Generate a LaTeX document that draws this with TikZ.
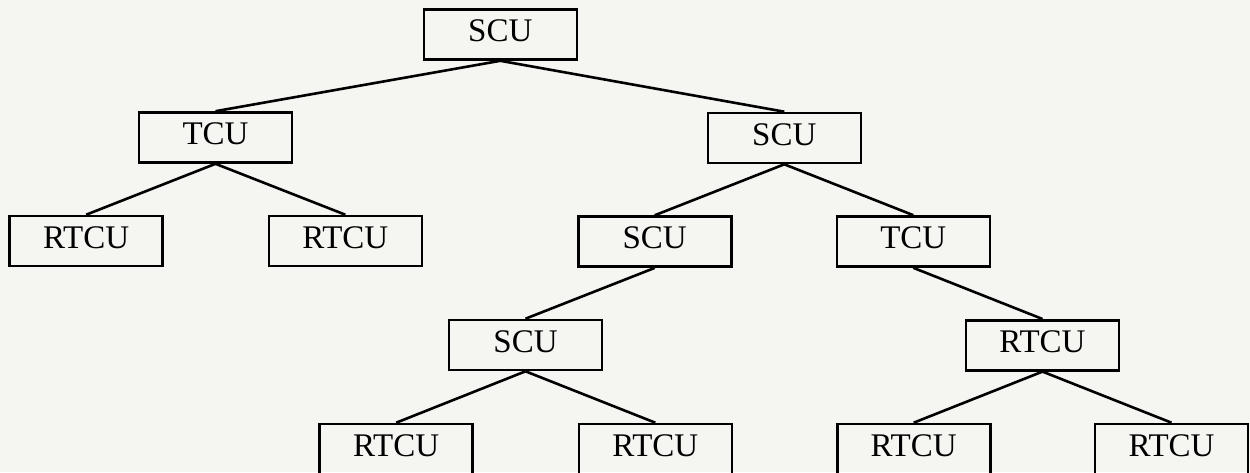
\documentclass[tikz,border=0pt]{standalone}
\usepackage{fontspec}
\setmainfont{Liberation Serif}
\begin{document}
\begin{tikzpicture}[x=1pt,y=-1pt,
  unit/.style={draw, line width=2.6pt, minimum width=153pt, minimum height=50pt,
    inner sep=0pt, text height=22pt, text depth=8pt,
    font=\fontsize{33}{40}\selectfont},
  link/.style={line width=2.6pt}]
  % page frame and paper tone
  \useasboundingbox (0,0) rectangle (1250,472);
  \fill[fill={rgb,255:red,245;green,245;blue,241}] (0,0) rectangle (1250,472);
  \clip (0,0) rectangle (1250,472);

  % level 0
  \node[unit] (s0) at (500.3,34.5) {SCU};
  % level 1
  \node[unit] (t1) at (215.5,137.5) {TCU};
  \node[unit] (s1) at (784.3,138) {SCU};
  % level 2
  \node[unit] (r1) at (86.2,241) {RTCU};
  \node[unit] (r2) at (345.3,241) {RTCU};
  \node[unit] (s2) at (654.7,241.6) {SCU};
  \node[unit] (t2) at (913.3,241.5) {TCU};
  % level 3
  \node[unit] (s3) at (525.5,345) {SCU};
  \node[unit] (r3) at (1042.5,345.3) {RTCU};
  % level 4
  \node[unit] (r4) at (396.2,449) {RTCU};
  \node[unit] (r5) at (655.3,449) {RTCU};
  \node[unit] (r6) at (913.7,449) {RTCU};
  \node[unit] (r7) at (1171.5,449) {RTCU};

  % tree links
  \draw[link] (s0.south) -- (t1.north);
  \draw[link] (s0.south) -- (s1.north);
  \draw[link] (t1.south) -- (r1.north);
  \draw[link] (t1.south) -- (r2.north);
  \draw[link] (s1.south) -- (s2.north);
  \draw[link] (s1.south) -- (t2.north);
  \draw[link] (s2.south) -- (s3.north);
  \draw[link] (t2.south) -- (r3.north);
  \draw[link] (s3.south) -- (r4.north);
  \draw[link] (s3.south) -- (r5.north);
  \draw[link] (r3.south) -- (r6.north);
  \draw[link] (r3.south) -- (r7.north);
\end{tikzpicture}
\end{document}
